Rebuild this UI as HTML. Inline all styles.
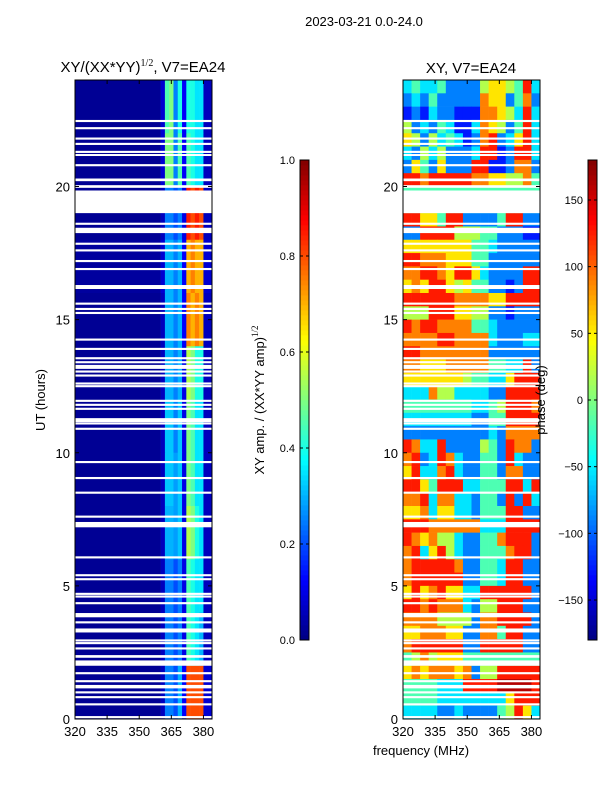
<!DOCTYPE html>
<html><head><meta charset="utf-8">
<style>
body{margin:0;background:#fff;}
svg{display:block;font-family:"Liberation Sans","DejaVu Sans",sans-serif;}
</style></head>
<body>
<svg id="fig" width="600" height="800" viewBox="0 0 600 800" xmlns="http://www.w3.org/2000/svg">
<text x="364" y="26" font-size="13" text-anchor="middle">2023-03-21 0.0-24.0</text>
<text x="143" y="72" font-size="15" text-anchor="middle">XY/(XX*YY)<tspan font-family="Liberation Serif" font-size="10" dy="-6">1/2</tspan><tspan dy="6">, V7=EA24</tspan></text>
<text x="471" y="73" font-size="15" text-anchor="middle">XY, V7=EA24</text>
<g id="left"></g>
<g id="right"></g>
<g id="axes"></g>
<text transform="translate(45,400) rotate(-90)" font-size="13" text-anchor="middle">UT (hours)</text>
<text x="421" y="755" font-size="13" text-anchor="middle">frequency (MHz)</text>
<text transform="translate(264,400) rotate(-90)" font-size="13" text-anchor="middle">XY amp. / (XX*YY amp)<tspan font-family="Liberation Serif" font-size="9" dy="-6">1/2</tspan></text>
<text transform="translate(545,400) rotate(-90)" font-size="13" text-anchor="middle">phase (deg)</text>
</svg>
<script>
// ---- data ----
const ampFreqEdges=[320,360,362,364,366,368,370,372,374,376,378,380,384];
const ampBlockHours=[24,22,20,18,16,14,12,10,8,6,4,2,0];
const ampValues=[
[2,8,45,50,25,40,12,40,40,35,35,6],
[2,8,50,50,25,45,12,45,40,35,35,6],
[2,6,25,25,20,25,10,85,80,85,80,6],
[3,8,30,30,25,30,12,70,75,70,70,8],
[2,6,30,30,25,30,12,75,70,75,70,6],
[2,6,30,30,25,30,10,55,50,40,40,6],
[2,6,32,32,25,32,10,50,45,35,35,6],
[2,6,32,32,28,32,10,50,45,35,35,6],
[2,6,30,30,28,32,10,55,50,40,35,6],
[2,6,25,25,20,25,10,45,40,35,35,6],
[2,6,25,25,20,25,10,45,40,35,30,6],
[2,6,25,25,20,30,12,80,80,80,80,8]];
const phaseFreqStart=320, phaseFreqStep=4, phaseRowHours=0.5;
const phaseRows=[
"3433422225665483","2324222227662472","1213221117765383","5232431137652483",
"6525343127823683","3253522238812883","2642622288112772","8878888877665574",
"4444444444444444","4444444444444444","8866488222248822","2288885554422211",
"6666666644322222","8877766644222222","7788768863222288","6768865644221288",
"8888887777668888","5558886655221222","8788777744322222","7777887777322233",
"8877777777222222","7766677777443382","6666666544336888","3337553333228888",
"4444444433458887","3333333322448888","2222222222327777","8733822225428772",
"7823873224428322","6833783224427722","8864888334448838","7783773324428283",
"6673663324448822","8887777773338888","8767553224478882","7836853224447882",
"7888887224438822","7888888224438822","6867866338888882","8878777325588822",
"7777555527788882","6677766227748822","7888888228888822","4575666444444444",
"6767776725588888","4444333888899998","4444333333336888","3333223222245863"];
const gaps=[[22.42,22.5],[22.15,22.23],[21.76,21.84],[21.56,21.64],[21.26,21.34],[21.16,21.22],[20.76,20.84],[20.2,20.3],[19.95,20.05],[19.0,19.85],
[18.56,18.64],[18.25,18.45],[17.81,17.89],[17.56,17.64],[17.16,17.24],[16.86,16.94],[16.15,16.3],[15.56,15.64],[15.36,15.44],[15.21,15.29],
[14.21,14.29],[13.86,13.94],[13.51,13.59],[13.36,13.44],[13.15,13.3],[13.01,13.09],[12.86,12.94],[12.56,12.64],[12.46,12.54],[11.91,11.99],
[11.76,11.84],[11.61,11.69],[11.15,11.3],[11.06,11.14],[10.86,10.94],[9.61,9.69],[9.01,9.09],[8.46,8.54],[7.56,7.64],[7.2,7.4],
[6.03,6.11],[5.36,5.44],[5.21,5.29],[4.66,4.74],[4.56,4.64],[4.31,4.39],[3.82,3.98],[3.59,3.67],[3.25,3.4],[2.91,2.99],
[2.81,2.89],[2.61,2.69],[2.3,2.4],[2.0,2.2],[1.68,1.76],[1.38,1.46],[1.15,1.28],[0.96,1.04],[0.78,0.86],[0.51,0.59],[0.03,0.11]];
const xTicks=[320,335,350,365,380];
const yTicks=[0,5,10,15,20];
const ampCbTicks=[0.0,0.2,0.4,0.6,0.8,1.0];
const phaseCbTicks=[-150,-100,-50,0,50,100,150];

// ---- scales ----
const NS="http://www.w3.org/2000/svg";
const panels=[{x0:75,x1:212},{x0:403,x1:540}];
const Y0=719,Y1=80,H0=0,H1=24,F0=320,F1=384;
function yS(h){return Y0-(h-H0)/(H1-H0)*(Y0-Y1);}
function xS(p,f){return p.x0+(f-F0)/(F1-F0)*(p.x1-p.x0);}
function jet(t){t=Math.max(0,Math.min(1,t));
 function c(x){return Math.round(255*Math.max(0,Math.min(1,x)));}
 const r=Math.min(4*t-1.5,-4*t+4.5),g=Math.min(4*t-0.5,-4*t+3.5),b=Math.min(4*t+0.5,-4*t+2.5);
 return `rgb(${c(r)},${c(g)},${c(b)})`;}
function mk(tag,attrs,parent){const e=document.createElementNS(NS,tag);for(const k in attrs)e.setAttribute(k,attrs[k]);parent.appendChild(e);return e;}

const L=document.getElementById('left'),R=document.getElementById('right'),A=document.getElementById('axes');
ampValues.forEach((row,bi)=>{row.forEach((v,ci)=>{
 const x=xS(panels[0],ampFreqEdges[ci]),x2=xS(panels[0],ampFreqEdges[ci+1]);
 const y=yS(ampBlockHours[bi]),y2=yS(ampBlockHours[bi+1]);
 const r=mk('rect',{x:x,y:y,width:x2-x+0.3,height:y2-y+0.3,fill:jet(v/100)},L);
 
 
});});
phaseRows.forEach((s,ri)=>{const hTop=H1-ri*phaseRowHours;
 for(let ci=0;ci<s.length;ci++){const d=+s[ci];const ph=-180+(d+0.5)*36;
  const f=phaseFreqStart+ci*phaseFreqStep;
  const x=xS(panels[1],f),x2=xS(panels[1],f+phaseFreqStep);
  const y=yS(hTop),y2=yS(hTop-phaseRowHours);
  const r=mk('rect',{x:x,y:y,width:x2-x+0.3,height:y2-y+0.3,fill:jet((ph+180)/360)},R);
  
  
 }});
panels.forEach(p=>{gaps.forEach(g=>{
 const r=mk('rect',{x:p.x0,y:yS(g[1]),width:p.x1-p.x0,height:Math.max(2,yS(g[0])-yS(g[1])),fill:'#fff'},A);
 
 
});});
panels.forEach((p,pi)=>{
 const fr=mk('rect',{x:p.x0,y:Y1,width:p.x1-p.x0,height:Y0-Y1,fill:'none',stroke:'#000','stroke-width':1},A);
 
 
 xTicks.forEach(t=>{const x=xS(p,t);
  mk('line',{x1:x,y1:Y0,x2:x,y2:Y0-4,stroke:'#000'},A);
  mk('line',{x1:x,y1:Y1,x2:x,y2:Y1+4,stroke:'#000'},A);
  const tx=mk('text',{x:x,y:Y0+17,'font-size':13,'text-anchor':'middle'},A);tx.textContent=t;
  
  
 });
 yTicks.forEach(t=>{const y=yS(t);
  mk('line',{x1:p.x0,y1:y,x2:p.x0+4,y2:y,stroke:'#000'},A);
  mk('line',{x1:p.x1,y1:y,x2:p.x1-4,y2:y,stroke:'#000'},A);
  const tx=mk('text',{x:p.x0-5,y:y+5,'font-size':13,'text-anchor':'end'},A);tx.textContent=t;
  
  
 });
});
function colorbar(x,vmin,vmax,ticks,name,fmt){
 const CT=160,CB=640,W=9;
 for(let i=0;i<96;i++){const y=CB-(i+1)*(CB-CT)/96;
  const r=mk('rect',{x:x,y:y,width:W,height:(CB-CT)/96+0.4,fill:jet((i+0.5)/96)},A);
  
  }
 const fr=mk('rect',{x:x,y:CT,width:W,height:CB-CT,fill:'none',stroke:'#000'},A);
 
 
 ticks.forEach(t=>{const y=CB-(t-vmin)/(vmax-vmin)*(CB-CT);
  mk('line',{x1:x,y1:y,x2:x+3,y2:y,stroke:'#000'},A);
  mk('line',{x1:x+W,y1:y,x2:x+W-3,y2:y,stroke:'#000'},A);
  const tx=mk('text',{x:x-5,y:y+4,'font-size':11,'text-anchor':'end'},A);tx.textContent=fmt(t);
  
  });
}
colorbar(300,0,1,ampCbTicks,'amp-colorbar',t=>t.toFixed(1));
colorbar(588,-180,180,phaseCbTicks,'phase-colorbar',t=>t<0?'\u2212'+(-t):''+t);
</script>
</body></html>
